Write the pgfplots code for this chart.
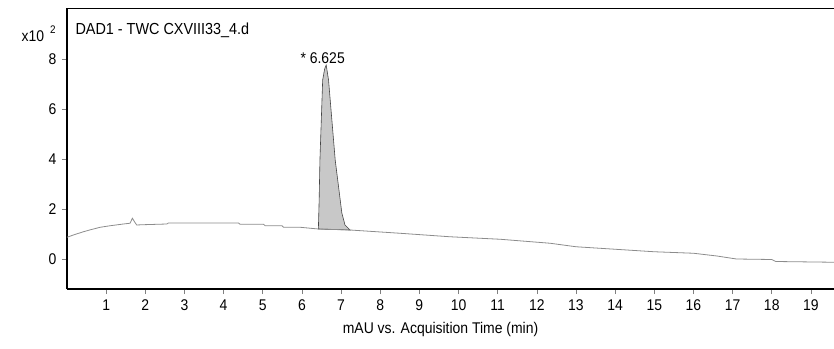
\documentclass[border=0pt]{standalone}
\usepackage{fontspec}
\setmainfont[FakeStretch=0.9]{Liberation Sans}
\usepackage{pgfplots}
\pgfplotsset{compat=1.18}
\definecolor{trace}{RGB}{140,140,140}
\definecolor{peakfill}{RGB}{200,200,200}
\definecolor{peakline}{RGB}{70,70,70}
\begin{document}
\begin{tikzpicture}
\begin{axis}[
  scale only axis, width=767pt, height=281pt,
  xmin=0, xmax=19.59, ymin=-1.2, ymax=10.04,
  axis x line*=bottom, axis y line*=left,
  axis line style={black, line width=1.6pt, -},
  xtick={1,...,19}, ytick={0,2,4,6,8},
  tick align=outside, major tick length=5pt,
  tick style={gray, line width=0.6pt},
  tick label style={font=\fontsize{15.5}{18}\selectfont, /pgf/number format/assume math mode=true},
  xticklabel style={yshift=-2pt},
  yticklabel style={xshift=-2pt},
  xlabel={mAU vs. Acquisition Time (min)},
  xlabel style={font=\fontsize{15.5}{18}\selectfont, at={(axis description cs:0.487,0)}, anchor=base, yshift=-44pt},
  clip=false,
]
\addplot[fill=peakfill, draw=peakline, line width=0.6pt] coordinates {
 (6.42,1.20) (6.44,2.36) (6.46,3.96) (6.53,7.16) (6.58,7.6) (6.62,7.76) (6.68,7.16)
 (6.85,3.96) (7.02,1.84) (7.10,1.36) (7.23,1.16)} -- cycle;
\addplot[trace, line width=0.8pt] coordinates {
 (0,0.87) (0.2,0.98) (0.42,1.09) (0.6,1.17) (0.85,1.27) (1.1,1.33) (1.44,1.40)
 (1.61,1.43) (1.67,1.63) (1.72,1.50) (1.78,1.36) (1.91,1.37) (2.55,1.40) (2.59,1.44)
 (4.38,1.44) (4.42,1.39) (5.02,1.39) (5.06,1.33) (5.49,1.33) (5.53,1.27) (5.95,1.27)
 (6.42,1.20) (7.23,1.16) (8.5,1.03) (9.78,0.89) (11.06,0.79) (12.34,0.63)
 (13,0.49) (14,0.39) (15,0.29) (16,0.23) (16.6,0.12) (17.1,0.0) (18,-0.02)
 (18.1,-0.10) (19.59,-0.13)};
\draw[black, line width=0.8pt] (rel axis cs:0,1) -- (rel axis cs:1,1);
\node[anchor=base west, font=\fontsize{16}{19}\selectfont] at ([xshift=5pt,yshift=-27pt]rel axis cs:0,1) {DAD1 - TWC CXVIII33\_4.d};
\node[anchor=base west, font=\fontsize{15.5}{18}\selectfont] at ([xshift=-49pt,yshift=-33.7pt]rel axis cs:0,1) {x10\hspace{6pt}\raisebox{8pt}{\fontsize{11}{13}\selectfont 2}};
\node[anchor=base, font=\fontsize{15.5}{18}\selectfont] at (axis cs:6.53,7.82) {* 6.625};
\end{axis}
\pgfresetboundingbox
\path ([shift={(-67pt,-59pt)}]current axis.south west) rectangle ([shift={(0pt,8pt)}]current axis.north east);
\end{tikzpicture}
\end{document}
